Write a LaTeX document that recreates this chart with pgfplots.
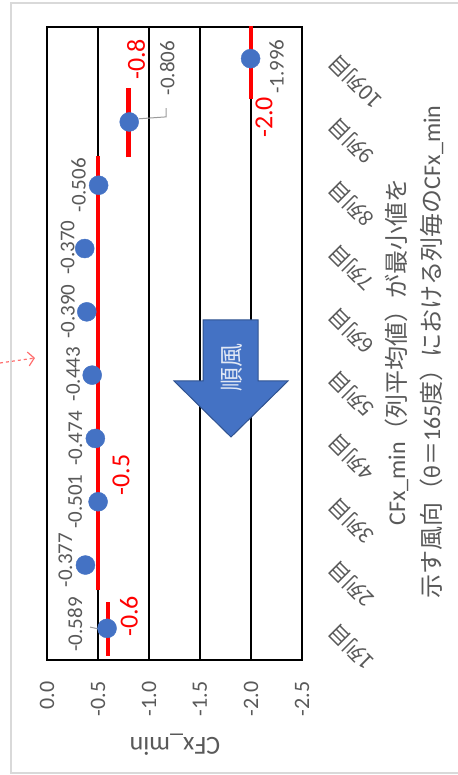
\documentclass[border=0pt]{standalone}
\usepackage{fontspec}
\setmainfont{Carlito}
\newfontfamily\jp{Noto Sans CJK JP}
\usepackage{pgfplots}
\usepackage{pgfplotstable}
\pgfplotsset{compat=1.18}
\usetikzlibrary{arrows.meta}

\definecolor{ptblue}{RGB}{68,114,196}
\definecolor{arrowedge}{RGB}{47,82,143}
\definecolor{txtgray}{RGB}{89,89,89}
\definecolor{framegray}{RGB}{217,217,217}
\definecolor{annored}{RGB}{255,110,110}

% column minimum CFx_min, label offsets in pt
\pgfplotstableread{
x y dx dy
-0.589 1 -32 4
-0.377 2 -20 5
-0.501 3 -23 0
-0.474 4 -20 0
-0.443 5 -19 1
-0.390 6 -19 0
-0.370 7 -17 1
-0.506 8 -20 0
-0.806 9 38 54
-1.996 10 26 -8
}\colmin

\begin{document}
\begin{tikzpicture}
\draw[framegray, line width=1.5pt] (-36pt,-113pt) rectangle (430pt,657pt);
\draw[annored, dashed, line width=1.2pt, -{Straight Barb[length=6pt,width=14pt]}] (-47pt,297pt) -- (-12pt,302pt);
\begin{axis}[
  width=255pt, height=633pt, scale only axis,
  xmin=-2.5, xmax=0, x dir=reverse,
  ymin=0.5, ymax=10.5,
  xtick={0,-0.5,-1,-1.5,-2,-2.5},
  xticklabel={\pgfmathprintnumber[fixed,fixed zerofill,precision=1,assume math mode=true]{\tick}},
  xticklabel style={font=\fontsize{22}{26}\selectfont, color=txtgray, yshift=-18pt, rotate=90, anchor=east},
  ytick={1,...,10},
  yticklabels={1列目,2列目,3列目,4列目,5列目,6列目,7列目,8列目,9列目,10列目},
  yticklabel pos=right,
  yticklabel style={font=\jp\fontsize{21}{25}\selectfont, color=txtgray, xshift=30pt, yshift=0pt, rotate=135, anchor=east, inner sep=0pt},
  major tick length=0pt,
  xmajorgrids,
  major grid style={black, line width=1.3pt},
  axis line style={black, line width=2.5pt},
]
\addplot[red, line width=4.5pt] coordinates {(-0.6,0.57) (-0.6,1.42)};
\addplot[red, line width=4.5pt] coordinates {(-0.5,1.6) (-0.5,8.46)};
\addplot[red, line width=4.5pt] coordinates {(-0.8,8.44) (-0.8,9.54)};
\addplot[red, line width=4.5pt] coordinates {(-2.0,9.36) (-2.0,10.6)};
\addplot[txtgray!60, line width=1pt] coordinates {(-0.902,9.05) (-1.167,9.08) (-1.167,9.22)};
\addplot[txtgray!60, line width=1pt] coordinates {(-0.422,1.02) (-0.549,0.975)};
\addplot[only marks, mark=*, mark size=9.5pt, color=ptblue,
  point meta=x,
  visualization depends on={\thisrow{dx} \as \dx},
  visualization depends on={\thisrow{dy} \as \dy},
  nodes near coords={\pgfmathprintnumber[fixed,fixed zerofill,precision=3,assume math mode=true]{\pgfplotspointmeta}},
  every node near coord/.append style={xshift=\dx pt, yshift=\dy pt, rotate=90, anchor=center,
    font=\fontsize{21}{25}\selectfont, color=txtgray},
] table[x=x, y=y] {\colmin};
\node[rotate=90, red, font=\fontsize{26}{30}\selectfont] at (axis cs:-0.804,1.19) {-0.6};
\node[rotate=90, red, font=\fontsize{26}{30}\selectfont] at (axis cs:-0.725,3.42) {-0.5};
\node[rotate=90, red, font=\fontsize{26}{30}\selectfont] at (axis cs:-0.873,9.99) {-0.8};
\node[rotate=90, red, font=\fontsize{26}{30}\selectfont] at (axis cs:-2.127,9.07) {-2.0};
\end{axis}
% wind direction arrow
\filldraw[fill=ptblue, draw=arrowedge, line width=1pt]
  (156pt,340pt) -- (211pt,340pt) -- (211pt,279pt) -- (241pt,279pt) -- (184pt,223pt)
  -- (127pt,279pt) -- (156pt,279pt) -- cycle;
\node[rotate=90, text={rgb,255:red,225;green,232;blue,245}, font=\jp\fontsize{24}{28}\selectfont] at (185pt,292pt) {順風};
% titles
\node[rotate=90, align=center, text=txtgray, font=\fontsize{24}{35}\selectfont] at (367pt,308pt)
  {CFx\_min{\jp（列平均値）が最小値を}\\{\jp 示す風向（}θ{\jp ＝}165{\jp 度）における列毎の}CFx\_min};
\node[rotate=180, text=txtgray, font=\fontsize{26}{30}\selectfont] at (128pt,-85pt) {CFx\_min};
\pgfresetboundingbox
\path[use as bounding box] (-47pt,-115pt) rectangle (410pt,660pt);
\end{tikzpicture}
\end{document}
